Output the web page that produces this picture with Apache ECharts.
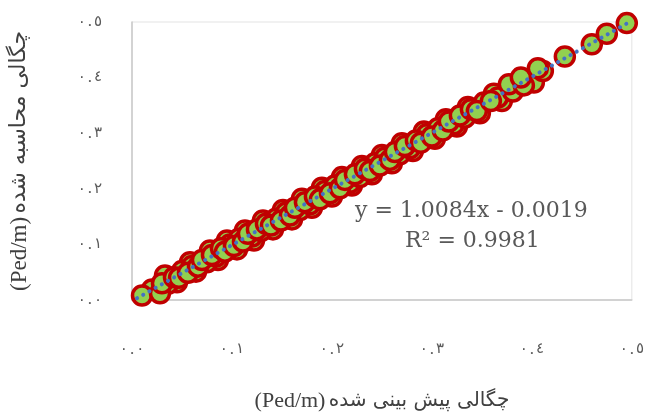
<!DOCTYPE html>
<html><head><meta charset="utf-8">
<script src="https://cdn.jsdelivr.net/npm/echarts@6/dist/echarts.min.js"></script>
<style>html,body{margin:0;padding:0;background:#fff}#c{width:647px;height:417px}</style>
</head><body><div id="c"></div>
<script>
// Predicted density (x) and computed density (y), Ped/m — outer scatter drawn first, then inner points
const predictedOuter = [0.033,0.045,0.058,0.064,0.078,0.086,0.095,0.105,0.113,0.122,0.131,0.141,0.151,0.160,0.170,0.180,
  0.190,0.200,0.210,0.220,0.230,0.240,0.250,0.260,0.270,0.281,0.292,0.303,0.314,0.325,0.336,0.348,0.362,0.370,0.398,0.402];
const computedOuter = [0.044,0.032,0.068,0.051,0.089,0.072,0.107,0.091,0.125,0.107,0.143,0.127,0.162,0.145,0.182,0.166,
  0.202,0.186,0.221,0.206,0.241,0.226,0.261,0.246,0.282,0.268,0.303,0.290,0.325,0.312,0.347,0.336,0.371,0.358,0.398,0.391];
const predicted = [0.020,0.010,0.036,0.028,0.030, 0.050,0.042,0.060,0.047,0.056, 0.075,0.066,0.084,0.070,0.080,
  0.098,0.089,0.107,0.093,0.102, 0.120,0.111,0.129,0.116,0.125, 0.144,0.134,0.154,0.139,0.149,
  0.168,0.158,0.178,0.163,0.173, 0.193,0.183,0.203,0.188,0.198, 0.218,0.208,0.228,0.213,0.223,
  0.243,0.233,0.253,0.238,0.248, 0.268,0.258,0.278,0.263,0.273, 0.295,0.284,0.306,0.289,0.300,
  0.322,0.311,0.333,0.317,0.328, 0.352,0.339,0.366,0.345,0.359,
  0.381,0.377,0.392,0.389,0.411,0.406,0.433,0.460,0.475,0.495];
const computed = [0.019,0.008,0.029,0.012,0.030, 0.052,0.041,0.061,0.040,0.049, 0.068,0.060,0.078,0.072,0.081,
  0.100,0.093,0.110,0.087,0.097, 0.114,0.105,0.124,0.119,0.127, 0.146,0.137,0.157,0.134,0.143,
  0.162,0.152,0.172,0.166,0.176, 0.196,0.186,0.206,0.181,0.192, 0.211,0.201,0.221,0.216,0.226,
  0.246,0.236,0.256,0.232,0.242, 0.262,0.252,0.273,0.266,0.277, 0.298,0.287,0.309,0.283,0.294,
  0.316,0.305,0.328,0.321,0.332, 0.355,0.343,0.364,0.340,0.358,
  0.375,0.388,0.386,0.400,0.412,0.417,0.438,0.460,0.479,0.498];
const tickDigits = ['٠','١','٢','٣','٤','٥'];
const slope = 1.0084, intercept = -0.0019;
const trendX = [0.005, 0.5];
const eqText = 'y = 1.0084x - 0.0019';
const r2Text = 'R² = 0.9981';
const unitText = '(Ped/m)';
const xTitleAr = 'چگالی پیش بینی شده';
const yTitleAr = 'چگالی محاسبه شده';

const pts = predictedOuter.map((x,i)=>[x, computedOuter[i]])
  .concat(predicted.map((x,i)=>[x, computed[i]]));
const trend = trendX.map(x=>[x, slope*x+intercept]);
const fmt = v => '{d|٠}{s|.}{d|' + tickDigits[Math.round(v*10)] + '}';
const chart = echarts.init(document.getElementById('c'), null, {renderer:'canvas'});
const tickRich = {
  d:{fontFamily:'DejaVu Sans, sans-serif', fontSize:15, color:'#595959'},
  s:{fontFamily:'Liberation Serif, serif', fontSize:17, color:'#595959', padding:[0,2,0,2]}
};
chart.setOption({
  animation:false,
  backgroundColor:'#fff',
  grid:{left:125,right:14,top:22,bottom:106,show:true,borderColor:'#e3e3e3',borderWidth:1},
  xAxis:{type:'value',min:0,max:0.5,interval:0.1,
    axisLine:{show:true,lineStyle:{color:'#c8c8c8',width:1.5}},
    axisTick:{show:false},splitLine:{show:false},
    axisLabel:{formatter:fmt,margin:41,rich:tickRich},
    name:'{en|'+unitText+'} {ar|'+xTitleAr+'}',nameLocation:'middle',nameGap:90,
    nameTextStyle:{rich:{
      en:{fontFamily:'Liberation Serif, serif', fontSize:22, color:'#404040'},
      ar:{fontFamily:'DejaVu Sans, sans-serif', fontSize:20, color:'#404040'}}}},
  yAxis:{type:'value',min:0,max:0.5,interval:0.1,
    axisLine:{show:true,lineStyle:{color:'#c8c8c8',width:1.5}},
    axisTick:{show:false},splitLine:{show:false},
    axisLabel:{formatter:fmt,margin:30,rich:tickRich},
    name:'{en|'+unitText+'} {ar|'+yTitleAr+'}',nameLocation:'middle',nameGap:101,
    nameTextStyle:{rich:{
      en:{fontFamily:'Liberation Serif, serif', fontSize:23, color:'#404040'},
      ar:{fontFamily:'DejaVu Sans, sans-serif', fontSize:22, color:'#404040'}}}},
  series:[
    {type:'scatter',data:pts,symbol:'circle',symbolSize:19,
     itemStyle:{color:'#92D050',borderColor:'#C00000',borderWidth:3.5,opacity:1},z:2},
    {type:'line',data:trend,symbol:'none',z:5,
     lineStyle:{color:'#4472C4',width:4,type:[0.1,7],cap:'round'}}
  ],
  graphic:[
    {type:'text',left:355,top:200,style:{text:eqText,font:'22px DejaVu Serif, serif',fill:'#595959'}},
    {type:'text',left:405,top:230,style:{text:r2Text,font:'22px DejaVu Serif, serif',fill:'#595959'}}
  ]
});
</script></body></html>
